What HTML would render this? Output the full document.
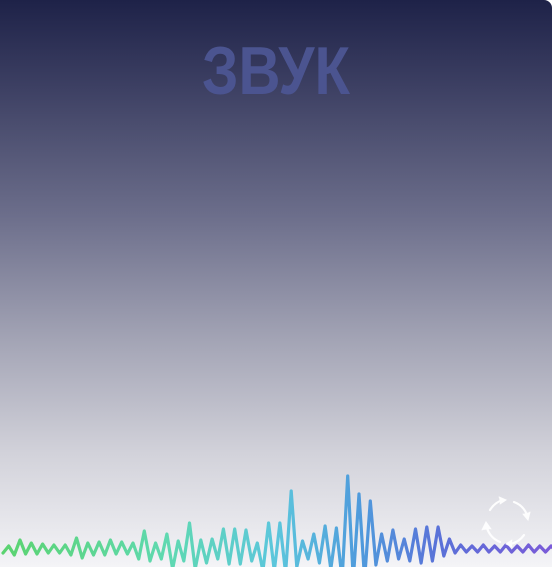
<!DOCTYPE html>
<html><head><meta charset="utf-8"><style>
html,body{margin:0;padding:0;background:#fff;}
#card{position:relative;width:552px;height:567px;overflow:hidden;border-radius:0 8px 0 0;
background:linear-gradient(180deg,#1e2248 0%,#3e4164 16%,#6c6e8b 38%,#a3a4b5 60%,#d2d2da 80%,#f4f4f7 100%);}
svg{position:absolute;left:0;top:0;}
</style></head><body>
<div id="card">
<svg width="552" height="567">
<defs>
<linearGradient id="wg" x1="0" y1="0" x2="552" y2="0" gradientUnits="userSpaceOnUse">
<stop offset="0" stop-color="#5bd36f"/>
<stop offset="0.3" stop-color="#5fd9b0"/>
<stop offset="0.5" stop-color="#5cc6dc"/>
<stop offset="0.65" stop-color="#4f9bdc"/>
<stop offset="0.8" stop-color="#5a70d8"/>
<stop offset="1" stop-color="#7a5ad8"/>
</linearGradient>
</defs>
<text x="276" y="94" text-anchor="middle" textLength="148" lengthAdjust="spacingAndGlyphs" font-family="Liberation Sans, DejaVu Sans, sans-serif" font-weight="bold" font-size="68" fill="#4b5490">ЗВУК</text>
<polyline id="wave" fill="none" stroke="url(#wg)" stroke-width="3.2" stroke-linejoin="round" stroke-linecap="round"/>
<g fill="none" stroke="#fff" stroke-width="2.2" stroke-linecap="round" opacity="0.95">
<path d="M490 510 A22 22 0 0 1 503 500"/><path d="M499 497 L506 500 L500 504" fill="#fff" stroke-width="1"/>
<path d="M514 502 A22 22 0 0 1 527 515"/><path d="M523 514 L528 520 L530 512" fill="#fff" stroke-width="1"/>
<path d="M524 535 A22 22 0 0 1 510 544"/><path d="M512 540 L506 544 L512 547" fill="#fff" stroke-width="1"/>
<path d="M500 542 A22 22 0 0 1 487 528"/><path d="M482 530 L486 522 L491 529" fill="#fff" stroke-width="1"/>
</g>
</svg>
</div>
<script>
const tops=[3,9,6,5,4,4,11,6,7,9,7,6,18,6,15,8,26,9,10,20,20,19,6,26,26,58,8,15,23,21,73,55,48,15,19,10,20,22,22,10,4,3,4,3,4,3,4,3,3];
const bottoms=[4,6,5,5,4,4,6,9,6,6,5,5,10,12,10,20,12,20,14,10,15,15,12,22,22,24,18,10,14,20,30,30,30,16,12,10,12,14,12,7,4,3,3,3,3,3,3,3,3];
const baseY=549, x0=8.7, step=11.3;
const pts=[];
pts.push([x0-step/2, baseY+bottoms[0]]);
for(let k=0;k<tops.length;k++){
  pts.push([x0+k*step, baseY-tops[k]]);
  const b=bottoms[Math.min(k+1,bottoms.length-1)];
  pts.push([x0+k*step+step/2, baseY+b]);
}
document.getElementById('wave').setAttribute('points',pts.map(p=>p[0].toFixed(1)+','+p[1].toFixed(1)).join(' '));
</script>
</body></html>
